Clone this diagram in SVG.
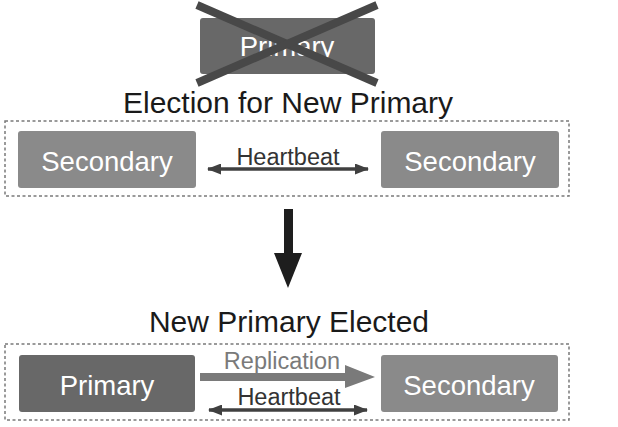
<svg xmlns="http://www.w3.org/2000/svg" width="618" height="427" viewBox="0 0 618 427">
<style>
  .lbl { font-family: "Liberation Sans", Arial, sans-serif; text-anchor: middle; }
  .title { font-size: 30px; fill: #1a1a1a; }
  .node { font-size: 27.5px; fill: #ffffff; }
  .edge { font-size: 23.5px; fill: #333333; }
  .frame { fill: none; stroke: #7a7a7a; stroke-width: 1.5; stroke-dasharray: 3 2.5; }
  .sec { fill: #8a8a8a; }
  .pri { fill: #686868; }
  .hb { stroke: #404040; stroke-width: 3.5; fill: none; }
</style>
<defs>
  <marker id="hbEnd" viewBox="0 0 14 11" refX="13" refY="5.5" markerWidth="14" markerHeight="11" markerUnits="userSpaceOnUse" orient="auto">
    <path d="M0,0 L14,5.5 L0,11 Z" fill="#404040"/>
  </marker>
  <marker id="hbStart" viewBox="0 0 14 11" refX="1" refY="5.5" markerWidth="14" markerHeight="11" markerUnits="userSpaceOnUse" orient="auto">
    <path d="M14,0 L0,5.5 L14,11 Z" fill="#404040"/>
  </marker>
</defs>

<g id="old-primary">
  <rect class="pri" x="200" y="18" width="175" height="56" rx="3"/>
  <text class="lbl node" x="287" y="56">Primary</text>
  <line x1="197" y1="5" x2="377" y2="83" stroke="#484848" stroke-width="8"/>
  <line x1="377" y1="5" x2="197" y2="83" stroke="#484848" stroke-width="8"/>
</g>

<g id="title-election">
  <text class="lbl title" x="288" y="113">Election for New Primary</text>
</g>

<g id="group-election">
  <rect class="frame" x="5" y="121" width="564" height="75"/>
</g>

<g id="secondary-a">
  <rect class="sec" x="18" y="131" width="178" height="57" rx="3"/>
  <text class="lbl node" x="107" y="171">Secondary</text>
</g>

<g id="secondary-b">
  <rect class="sec" x="381" y="131" width="178" height="57" rx="3"/>
  <text class="lbl node" x="470" y="171">Secondary</text>
</g>

<g id="title-elected">
  <text class="lbl title" x="289" y="332">New Primary Elected</text>
</g>

<g id="group-elected">
  <rect class="frame" x="5" y="344" width="564" height="76"/>
</g>

<g id="new-primary">
  <rect class="pri" x="19" y="355" width="176" height="57" rx="3"/>
  <text class="lbl node" x="107" y="395">Primary</text>
</g>

<g id="secondary-c">
  <rect class="sec" x="381" y="355" width="177" height="57" rx="3"/>
  <text class="lbl node" x="469" y="395">Secondary</text>
</g>

<g id="connectors">
  <line class="hb" x1="208" y1="169" x2="368" y2="169" marker-start="url(#hbStart)" marker-end="url(#hbEnd)"/>
  <text class="lbl edge" x="288" y="165">Heartbeat</text>
  <path d="M284,209 L293,209 L293,253 L302,253 L288,288 L274,253 L284,253 Z" fill="#1e1e1e"/>
  <path d="M200,373 L345,373 L345,365 L375,377 L345,388 L345,381 L200,381 Z" fill="#7a7a7a"/>
  <text class="lbl edge" x="282" y="369" style="fill:#7a7a7a">Replication</text>
  <line class="hb" x1="209" y1="410" x2="367" y2="410" marker-start="url(#hbStart)" marker-end="url(#hbEnd)"/>
  <text class="lbl edge" x="289" y="405">Heartbeat</text>
</g>
</svg>
